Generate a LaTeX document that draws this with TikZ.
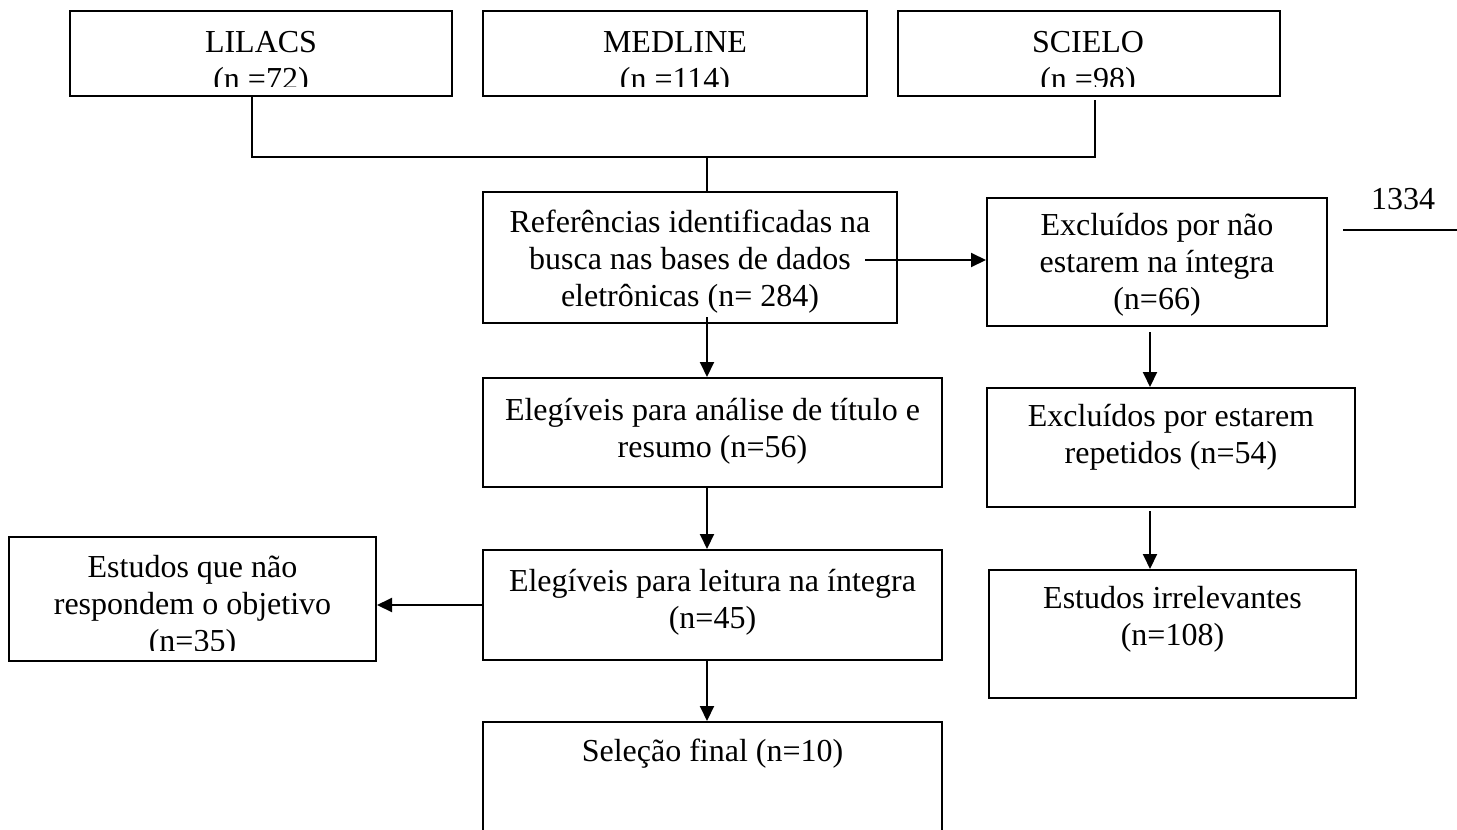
\documentclass[tikz,border=0pt]{standalone}
\usepackage{fontspec}
\setmainfont{Liberation Serif}
\usetikzlibrary{arrows.meta,calc}
\tikzset{
  box/.style={draw, line width=2pt, inner sep=0pt},
  txt/.style={align=center, font=\fontsize{32}{36.8}\selectfont, inner sep=0pt},
  conn/.style={line width=2pt},
  arr/.style={line width=2pt, -{Triangle[length=15pt,width=14pt]}},
}
\begin{document}
\begin{tikzpicture}[x=1pt,y=-1pt]
\fill[white] (0,0) rectangle (1457,830);
\clip (0,0) rectangle (1457,830);
% boxes
\node[box, minimum width=382pt, minimum height=85pt] (lil) at (261,53.5) {};
\node[box, minimum width=384pt, minimum height=85pt] (med) at (675,53.5) {};
\node[box, minimum width=382pt, minimum height=85pt] (sci) at (1089,53.5) {};
\node[box, minimum width=414pt, minimum height=131pt] (ref) at (690,257.5) {};
\node[box, minimum width=340pt, minimum height=128pt] (ex1) at (1157,262) {};
\node[box, minimum width=459pt, minimum height=109pt] (tit) at (712.5,432.5) {};
\node[box, minimum width=459pt, minimum height=110pt] (lei) at (712.5,605) {};
\node[box, minimum width=367pt, minimum height=124pt] (est) at (192.5,599) {};
\node[box, minimum width=459pt, minimum height=128pt] (sel) at (712.5,786) {};
\node[box, minimum width=368pt, minimum height=119pt] (ex2) at (1171,447.5) {};
\node[box, minimum width=367pt, minimum height=128pt] (irr) at (1172.5,634) {};
% texts (clipped ones)
\begin{scope}
\clip (0,0) rectangle (1457,86);
\node[txt] (tlil) at (261,64) {\strut LILACS\\\strut (n =72)};
\node[txt] (tmed) at (675,64) {\strut MEDLINE\\\strut (n =114)};
\node[txt] (tsci) at (1088,64) {\strut SCIELO\\\strut (n =98)};
\end{scope}
\begin{scope}
\clip (0,520) rectangle (480,650);
\node[txt] (test) at (192.5,607) {\strut Estudos que não\\\strut respondem o objetivo\\\strut (n=35)};
\end{scope}
\node[txt] (tref) at (690,262) {\strut Referências identificadas na\\\strut busca nas bases de dados\\\strut eletrônicas (n= 284)};
\node[txt] (tex1) at (1157,265) {\strut Excluídos por não\\\strut estarem na íntegra\\\strut (n=66)};
\node[txt] (ttit) at (712.5,432) {\strut Elegíveis para análise de título e\\\strut resumo (n=56)};
\node[txt] (tlei) at (712.5,603) {\strut Elegíveis para leitura na íntegra\\\strut (n=45)};
\node[txt] (tsel) at (712.5,754.6) {\strut Seleção final (n=10)};
\node[txt] (tex2) at (1171,438) {\strut Excluídos por estarem\\\strut repetidos (n=54)};
\node[txt] (tirr) at (1172.5,620) {\strut Estudos irrelevantes\\\strut (n=108)};
\node[txt] (num) at (1403,202.6) {\strut 1334};
\coordinate (nl) at (1343,230);
\coordinate (nr) at (1457,230);
\draw[conn] (nl) -- (nr);
% connectors
\coordinate (hl) at (252,157);
\coordinate (hm) at (707,157);
\coordinate (hr) at (1095,157);
\draw[conn] ([xshift=-9pt]lil.south) -- (hl) -- (hr) -- ([xshift=6pt,yshift=-3pt]sci.south);
\draw[conn] (hm) -- (ref.north -| hm);
\coordinate (a1) at (865,260);
\draw[arr] (a1) -- (a1 -| ex1.west);
\draw[arr] ($(ref.south -| hm)+(0,-7)$) -- (tit.north -| hm);
\draw[arr] (tit.south -| hm) -- (lei.north -| hm);
\draw[arr] (lei.west) -- (lei.west -| est.east);
\draw[arr] (lei.south -| hm) -- (sel.north -| hm);
\coordinate (rc) at (1150,0);
\draw[arr] ($(ex1.south -| rc)+(0,5)$) -- (ex2.north -| rc);
\draw[arr] ($(ex2.south -| rc)+(0,3)$) -- (irr.north -| rc);
\end{tikzpicture}
\end{document}
